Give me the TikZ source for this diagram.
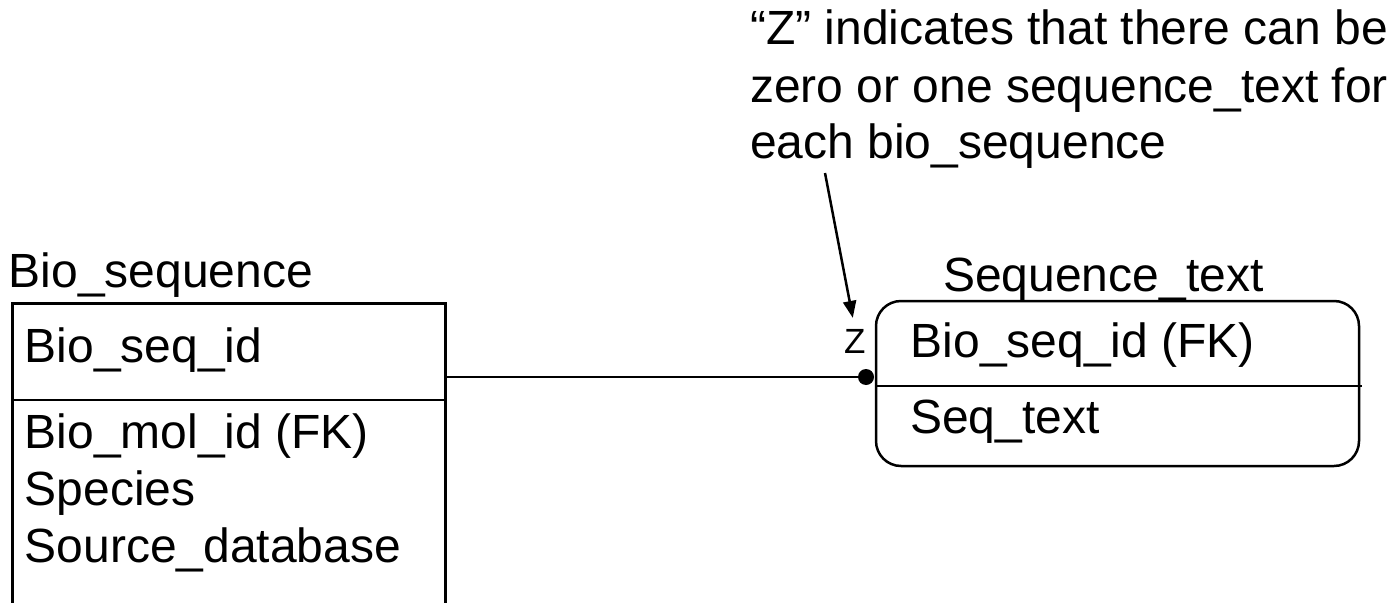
\documentclass[tikz,border=0pt]{standalone}
\usepackage{fontspec}
\setmainfont{Liberation Sans}
\usetikzlibrary{arrows.meta}

\begin{document}
\begin{tikzpicture}[x=1pt,y=-1pt,
    txt/.style={anchor=base west,inner sep=0pt,font=\fontsize{48}{57}\selectfont},
    table/.style={draw,inner sep=0pt,outer sep=0pt,anchor=north west},
    >={Triangle[length=17pt,width=13pt]}]
  \useasboundingbox (0,0) rectangle (1399,602);

  % bio_sequence:
  \node[txt] (bstitle) at (8.5,287) {Bio\_sequence};
  \node[table,line width=3pt,minimum width=433pt,minimum height=340pt] (bioseq) at (12,303) {};
  \draw[line width=2pt] (bioseq.west |- 0,400) -- (bioseq.east |- 0,400);
  \node[txt] (bsid) at (24.5,362) {Bio\_seq\_id};
  \node[txt] (bsmol) at (24.5,448) {Bio\_mol\_id (FK)};
  \node[txt] (bsspecies) at (24.5,505) {Species};
  \node[txt] (bssource) at (24.5,562) {Source\_database};

  % sequence_text:
  \node[txt] (sttitle) at (943,291) {Sequence\_text};
  \node[table,line width=2.5pt,rounded corners=25pt,minimum width=483pt,minimum height=165pt] (seqtext) at (876,301) {};
  \draw[line width=2pt] (seqtext.west |- 0,386) -- ([xshift=3pt]seqtext.east |- 0,386);
  \node[txt] (stid) at (910.5,357) {Bio\_seq\_id (FK)};
  \node[txt] (sttext) at (910,433) {Seq\_text};

  % relation:
  \node[txt,font=\fontsize{35}{42}\selectfont] (zmark) at (844,353) {Z};
  \node[circle,fill,inner sep=0pt,minimum size=16pt] (dot) at (866,377) {};
  \draw[line width=2.5pt] (bioseq.east |- dot) -- (dot);

  % note:
  \node[txt] (note1) at (750,45) {“Z” indicates that there can be};
  \node[txt] (note2) at (750,102) {zero or one sequence\_text for};
  \node[txt] (note3) at (750,158) {each bio\_sequence};
  \coordinate (notetail) at (825,173);
  \draw[->,line width=2.5pt,shorten >=11pt] (notetail) -- (zmark.north);
\end{tikzpicture}
\end{document}
